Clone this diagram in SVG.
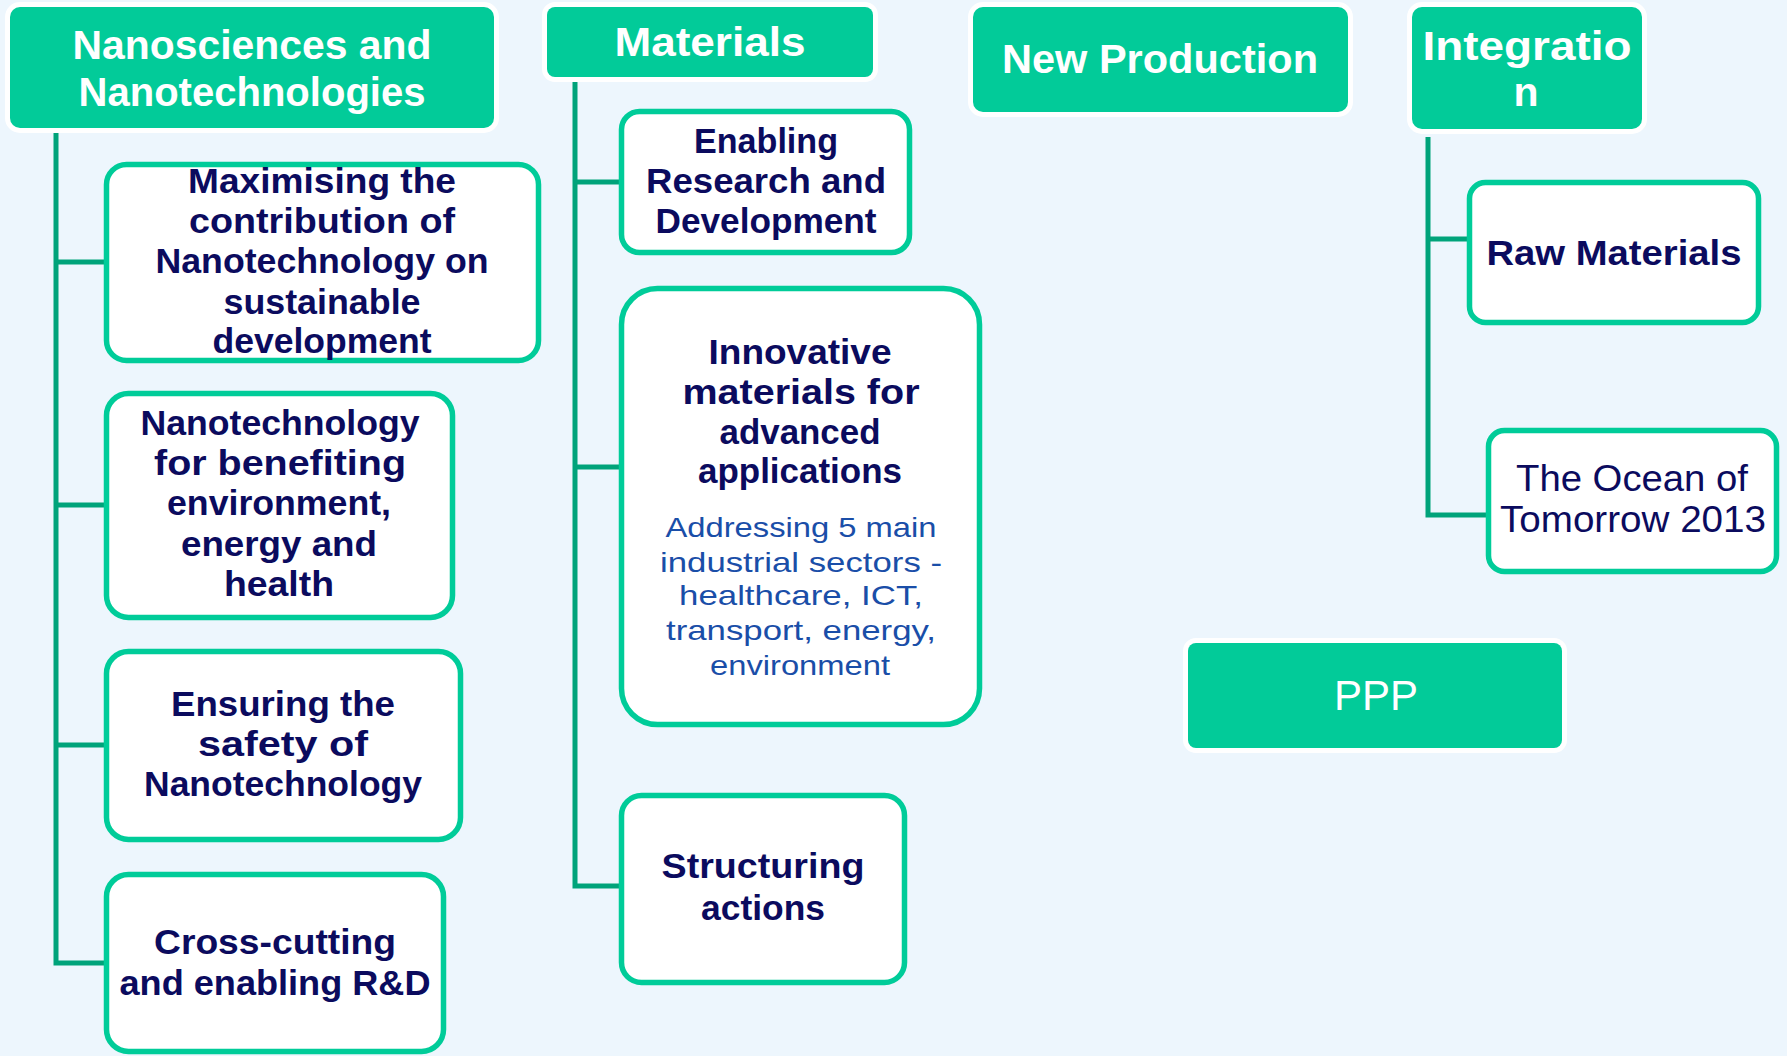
<svg xmlns="http://www.w3.org/2000/svg" width="1787" height="1056" viewBox="0 0 1787 1056">
<style>
.bg{fill:#EDF6FD}
.hdr rect{fill:#02CB99;stroke:#FFFFFF;stroke-width:10;paint-order:stroke}
.box rect{fill:#FFFFFF;stroke:#00CC99;stroke-width:5.5}
.conn{stroke:#00A37A;stroke-width:5;fill:none}
.ht{fill:#FFFFFF;font-family:"Liberation Sans",Arial,sans-serif;font-weight:700;font-size:41px;text-anchor:middle}
.bt{fill:#0B0B5E;font-family:"Liberation Sans",Arial,sans-serif;font-weight:700;font-size:35px;text-anchor:middle}
.rt{fill:#0B0B5E;font-family:"Liberation Sans",Arial,sans-serif;font-weight:400;font-size:36px;text-anchor:middle}
.st{fill:#1A4EA8;font-family:"Liberation Sans",Arial,sans-serif;font-weight:400;font-size:28px;text-anchor:middle}
.pt{fill:#FFFFFF;font-family:"Liberation Sans",Arial,sans-serif;font-weight:400;font-size:42px;text-anchor:middle}
</style>
<rect class="bg" x="0" y="0" width="1787" height="1056"/>

<g id="connectors">
<path class="conn" d="M56 131 V963 H105 M56 262 H105 M56 505 H105 M56 745 H105"/>
<path class="conn" d="M575 79 V886 H620 M575 182 H620 M575 467 H620"/>
<path class="conn" d="M1428 137 V515 H1487 M1428 239 H1468"/>
</g>

<g id="nanosciences" class="hdr">
<rect x="10" y="7" width="484" height="121" rx="10"/>
<text class="ht" x="252" y="59" textLength="359" lengthAdjust="spacingAndGlyphs">Nanosciences and</text>
<text class="ht" x="252" y="106" textLength="347" lengthAdjust="spacingAndGlyphs">Nanotechnologies</text>
</g>

<g id="materials" class="hdr">
<rect x="547" y="7" width="326" height="70" rx="8"/>
<text class="ht" x="710" y="56" textLength="191" lengthAdjust="spacingAndGlyphs">Materials</text>
</g>

<g id="new-production" class="hdr">
<rect x="973" y="7" width="375" height="105" rx="10"/>
<text class="ht" x="1160" y="73" textLength="316" lengthAdjust="spacingAndGlyphs">New Production</text>
</g>

<g id="integration" class="hdr">
<rect x="1412" y="7" width="230" height="122" rx="10"/>
<text class="ht" x="1527" y="60" textLength="209" lengthAdjust="spacingAndGlyphs">Integratio</text>
<text class="ht" x="1526" y="106">n</text>
</g>

<g id="ppp" class="hdr">
<rect x="1188" y="643" width="374" height="105" rx="8"/>
<text class="pt" x="1376" y="710">PPP</text>
</g>

<g id="maximising" class="box">
<rect x="106.5" y="164.5" width="432" height="196" rx="20"/>
<text class="bt" x="322" y="193" textLength="268" lengthAdjust="spacingAndGlyphs">Maximising the</text>
<text class="bt" x="322" y="233" textLength="266" lengthAdjust="spacingAndGlyphs">contribution of</text>
<text class="bt" x="322" y="273" textLength="333" lengthAdjust="spacingAndGlyphs">Nanotechnology on</text>
<text class="bt" x="322" y="314" textLength="197" lengthAdjust="spacingAndGlyphs">sustainable</text>
<text class="bt" x="322" y="353" textLength="219" lengthAdjust="spacingAndGlyphs">development</text>
</g>

<g id="benefiting" class="box">
<rect x="106.5" y="393.5" width="346" height="224" rx="22"/>
<text class="bt" x="280" y="435" textLength="279" lengthAdjust="spacingAndGlyphs">Nanotechnology</text>
<text class="bt" x="280" y="475" textLength="252" lengthAdjust="spacingAndGlyphs">for benefiting</text>
<text class="bt" x="279" y="515" textLength="224" lengthAdjust="spacingAndGlyphs">environment,</text>
<text class="bt" x="279" y="556" textLength="196" lengthAdjust="spacingAndGlyphs">energy and</text>
<text class="bt" x="279" y="596" textLength="110" lengthAdjust="spacingAndGlyphs">health</text>
</g>

<g id="safety" class="box">
<rect x="106.5" y="651.5" width="354" height="188" rx="22"/>
<text class="bt" x="283" y="716" textLength="224" lengthAdjust="spacingAndGlyphs">Ensuring the</text>
<text class="bt" x="283" y="756" textLength="170" lengthAdjust="spacingAndGlyphs">safety of</text>
<text class="bt" x="283" y="796" textLength="278" lengthAdjust="spacingAndGlyphs">Nanotechnology</text>
</g>

<g id="crosscutting" class="box">
<rect x="106.5" y="874.5" width="337" height="177" rx="22"/>
<text class="bt" x="275" y="954" textLength="242" lengthAdjust="spacingAndGlyphs">Cross-cutting</text>
<text class="bt" x="275" y="995" textLength="311" lengthAdjust="spacingAndGlyphs">and enabling R&amp;D</text>
</g>

<g id="enabling" class="box">
<rect x="621.5" y="111.5" width="288" height="141" rx="18"/>
<text class="bt" x="766" y="153" textLength="144" lengthAdjust="spacingAndGlyphs">Enabling</text>
<text class="bt" x="766" y="193" textLength="240" lengthAdjust="spacingAndGlyphs">Research and</text>
<text class="bt" x="766" y="233" textLength="221" lengthAdjust="spacingAndGlyphs">Development</text>
</g>

<g id="innovative" class="box">
<rect x="621.5" y="288.5" width="358" height="436" rx="36"/>
<text class="bt" x="800" y="364" textLength="183" lengthAdjust="spacingAndGlyphs">Innovative</text>
<text class="bt" x="801" y="404" textLength="237" lengthAdjust="spacingAndGlyphs">materials for</text>
<text class="bt" x="800" y="444" textLength="161" lengthAdjust="spacingAndGlyphs">advanced</text>
<text class="bt" x="800" y="483" textLength="204" lengthAdjust="spacingAndGlyphs">applications</text>
<text class="st" x="801" y="537" textLength="271" lengthAdjust="spacingAndGlyphs">Addressing 5 main</text>
<text class="st" x="801" y="572" textLength="282" lengthAdjust="spacingAndGlyphs">industrial sectors -</text>
<text class="st" x="801" y="605" textLength="244" lengthAdjust="spacingAndGlyphs">healthcare, ICT,</text>
<text class="st" x="801" y="640" textLength="270" lengthAdjust="spacingAndGlyphs">transport, energy,</text>
<text class="st" x="800" y="675" textLength="180" lengthAdjust="spacingAndGlyphs">environment</text>
</g>

<g id="structuring" class="box">
<rect x="621.5" y="795.5" width="283" height="187" rx="20"/>
<text class="bt" x="763" y="878" textLength="203" lengthAdjust="spacingAndGlyphs">Structuring</text>
<text class="bt" x="763" y="920" textLength="124" lengthAdjust="spacingAndGlyphs">actions</text>
</g>

<g id="raw-materials" class="box">
<rect x="1469.5" y="182.5" width="289" height="140" rx="16"/>
<text class="bt" x="1614" y="265" textLength="255" lengthAdjust="spacingAndGlyphs">Raw Materials</text>
</g>

<g id="ocean" class="box">
<rect x="1488.5" y="430.5" width="288" height="141" rx="16"/>
<text class="rt" x="1632" y="491" textLength="232" lengthAdjust="spacingAndGlyphs">The Ocean of</text>
<text class="rt" x="1633" y="532" textLength="266" lengthAdjust="spacingAndGlyphs">Tomorrow 2013</text>
</g>
</svg>
